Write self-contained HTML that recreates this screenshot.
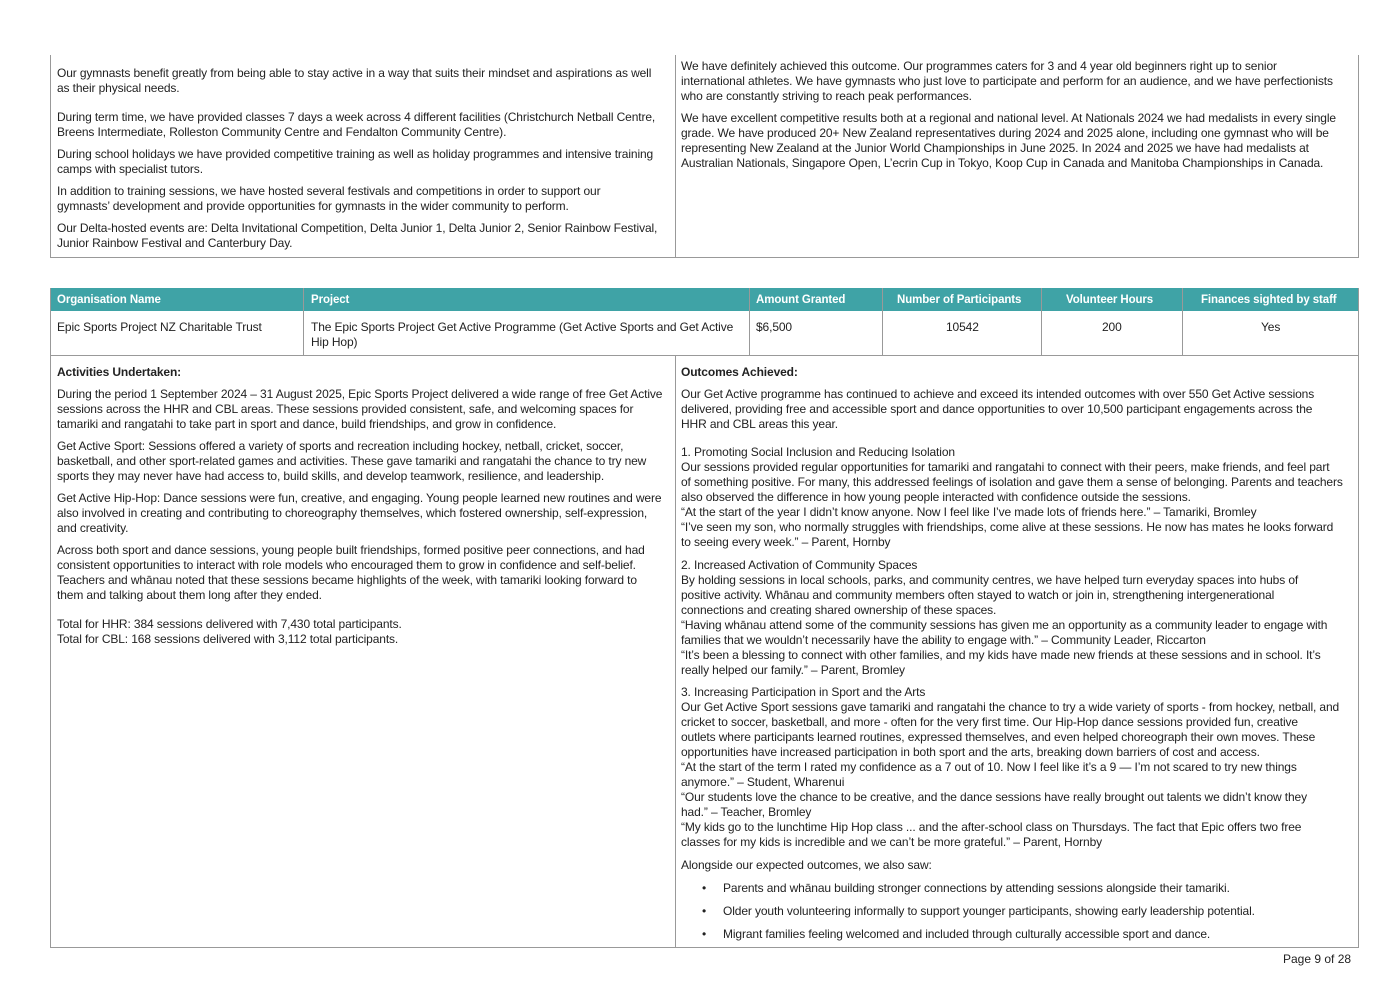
<!DOCTYPE html>
<html><head><meta charset="utf-8"><style>
body{margin:0;width:1398px;height:989px;background:#fff;position:relative;overflow:hidden;font-family:"Liberation Sans",sans-serif;color:#222;}
.t{position:absolute;font-size:12px;line-height:15px;white-space:nowrap;letter-spacing:-0.12px;margin-top:2px}
.b{font-weight:bold}
.box{position:absolute;border:1px solid #999;box-sizing:border-box}
.v{position:absolute;width:1px;background:#999}
.h{position:absolute;height:1px;background:#999}
.hd{position:absolute;top:288px;height:23px;background:#3fa3a6;}
.ht{position:absolute;top:294px;color:#fff;font-weight:bold;font-size:11.5px;white-space:nowrap;letter-spacing:-0.1px}
</style></head><body>
<div class="box" style="left:50px;top:55px;width:1309px;height:203px;border-top:none"></div>
<div class="v" style="left:675px;top:55px;height:203px"></div>

<div class="t" style="left:57px;top:64px">Our gymnasts benefit greatly from being able to stay active in a way that suits their mindset and aspirations as well<br>as their physical needs.</div>
<div class="t" style="left:57px;top:108px">During term time, we have provided classes 7 days a week across 4 different facilities (Christchurch Netball Centre,<br>Breens Intermediate, Rolleston Community Centre and Fendalton Community Centre).</div>
<div class="t" style="left:57px;top:145px">During school holidays we have provided competitive training as well as holiday programmes and intensive training<br>camps with specialist tutors.</div>
<div class="t" style="left:57px;top:182px">In addition to training sessions, we have hosted several festivals and competitions in order to support our<br>gymnasts’ development and provide opportunities for gymnasts in the wider community to perform.</div>
<div class="t" style="left:57px;top:219px">Our Delta-hosted events are: Delta Invitational Competition, Delta Junior 1, Delta Junior 2, Senior Rainbow Festival,<br>Junior Rainbow Festival and Canterbury Day.</div>

<div class="t" style="left:681px;top:57px">We have definitely achieved this outcome. Our programmes caters for 3 and 4 year old beginners right up to senior<br>international athletes. We have gymnasts who just love to participate and perform for an audience, and we have perfectionists<br>who are constantly striving to reach peak performances.</div>
<div class="t" style="left:681px;top:109px">We have excellent competitive results both at a regional and national level. At Nationals 2024 we had medalists in every single<br>grade. We have produced 20+ New Zealand representatives during 2024 and 2025 alone, including one gymnast who will be<br>representing New Zealand at the Junior World Championships in June 2025. In 2024 and 2025 we have had medalists at<br>Australian Nationals, Singapore Open, L’ecrin Cup in Tokyo, Koop Cup in Canada and Manitoba Championships in Canada.</div>

<div class="box" style="left:50px;top:288px;width:1309px;height:660px"></div>
<div class="hd" style="left:51px;width:1307px"></div>
<div class="v" style="left:303px;top:288px;height:67px"></div>
<div class="v" style="left:749px;top:288px;height:67px"></div>
<div class="v" style="left:882px;top:288px;height:67px"></div>
<div class="v" style="left:1041px;top:288px;height:67px"></div>
<div class="v" style="left:1182px;top:288px;height:67px"></div>
<div class="h" style="left:50px;top:355px;width:1309px"></div>
<div class="v" style="left:675px;top:355px;height:593px"></div>
<div class="ht" style="left:57px">Organisation Name</div>
<div class="ht" style="left:311px">Project</div>
<div class="ht" style="left:756px">Amount Granted</div>
<div class="ht" style="left:897px">Number of Participants</div>
<div class="ht" style="left:1066px">Volunteer Hours</div>
<div class="ht" style="left:1201px">Finances sighted by staff</div>

<div class="t" style="left:57px;top:318px">Epic Sports Project NZ Charitable Trust</div>
<div class="t" style="left:311px;top:318px">The Epic Sports Project Get Active Programme (Get Active Sports and Get Active<br>Hip Hop)</div>
<div class="t" style="left:756px;top:318px">$6,500</div>
<div class="t" style="left:946px;top:318px">10542</div>
<div class="t" style="left:1102px;top:318px">200</div>
<div class="t" style="left:1261px;top:318px">Yes</div>

<div class="t b" style="left:57px;top:363px">Activities Undertaken:</div>
<div class="t" style="left:57px;top:385px">During the period 1 September 2024 – 31 August 2025, Epic Sports Project delivered a wide range of free Get Active<br>sessions across the HHR and CBL areas. These sessions provided consistent, safe, and welcoming spaces for<br>tamariki and rangatahi to take part in sport and dance, build friendships, and grow in confidence.</div>
<div class="t" style="left:57px;top:437px">Get Active Sport: Sessions offered a variety of sports and recreation including hockey, netball, cricket, soccer,<br>basketball, and other sport-related games and activities. These gave tamariki and rangatahi the chance to try new<br>sports they may never have had access to, build skills, and develop teamwork, resilience, and leadership.</div>
<div class="t" style="left:57px;top:489px">Get Active Hip-Hop: Dance sessions were fun, creative, and engaging. Young people learned new routines and were<br>also involved in creating and contributing to choreography themselves, which fostered ownership, self-expression,<br>and creativity.</div>
<div class="t" style="left:57px;top:541px">Across both sport and dance sessions, young people built friendships, formed positive peer connections, and had<br>consistent opportunities to interact with role models who encouraged them to grow in confidence and self-belief.<br>Teachers and whānau noted that these sessions became highlights of the week, with tamariki looking forward to<br>them and talking about them long after they ended.</div>
<div class="t" style="left:57px;top:615px">Total for HHR: 384 sessions delivered with 7,430 total participants.<br>Total for CBL: 168 sessions delivered with 3,112 total participants.</div>

<div class="t b" style="left:681px;top:363px">Outcomes Achieved:</div>
<div class="t" style="left:681px;top:385px">Our Get Active programme has continued to achieve and exceed its intended outcomes with over 550 Get Active sessions<br>delivered, providing free and accessible sport and dance opportunities to over 10,500 participant engagements across the<br>HHR and CBL areas this year.</div>
<div class="t" style="left:681px;top:443px">1. Promoting Social Inclusion and Reducing Isolation<br>Our sessions provided regular opportunities for tamariki and rangatahi to connect with their peers, make friends, and feel part<br>of something positive. For many, this addressed feelings of isolation and gave them a sense of belonging. Parents and teachers<br>also observed the difference in how young people interacted with confidence outside the sessions.<br>“At the start of the year I didn’t know anyone. Now I feel like I’ve made lots of friends here.” – Tamariki, Bromley<br>“I’ve seen my son, who normally struggles with friendships, come alive at these sessions. He now has mates he looks forward<br>to seeing every week.” – Parent, Hornby</div>
<div class="t" style="left:681px;top:556px">2. Increased Activation of Community Spaces<br>By holding sessions in local schools, parks, and community centres, we have helped turn everyday spaces into hubs of<br>positive activity. Whānau and community members often stayed to watch or join in, strengthening intergenerational<br>connections and creating shared ownership of these spaces.<br>“Having whānau attend some of the community sessions has given me an opportunity as a community leader to engage with<br>families that we wouldn’t necessarily have the ability to engage with.” – Community Leader, Riccarton<br>“It’s been a blessing to connect with other families, and my kids have made new friends at these sessions and in school. It’s<br>really helped our family.” – Parent, Bromley</div>
<div class="t" style="left:681px;top:683px">3. Increasing Participation in Sport and the Arts<br>Our Get Active Sport sessions gave tamariki and rangatahi the chance to try a wide variety of sports - from hockey, netball, and<br>cricket to soccer, basketball, and more - often for the very first time. Our Hip-Hop dance sessions provided fun, creative<br>outlets where participants learned routines, expressed themselves, and even helped choreograph their own moves. These<br>opportunities have increased participation in both sport and the arts, breaking down barriers of cost and access.<br>“At the start of the term I rated my confidence as a 7 out of 10. Now I feel like it’s a 9 — I’m not scared to try new things<br>anymore.” – Student, Wharenui<br>“Our students love the chance to be creative, and the dance sessions have really brought out talents we didn’t know they<br>had.” – Teacher, Bromley<br>“My kids go to the lunchtime Hip Hop class ... and the after-school class on Thursdays. The fact that Epic offers two free<br>classes for my kids is incredible and we can’t be more grateful.” – Parent, Hornby</div>
<div class="t" style="left:681px;top:856px">Alongside our expected outcomes, we also saw:</div>
<div class="t" style="left:702px;top:879px">•</div><div class="t" style="left:723px;top:879px">Parents and whānau building stronger connections by attending sessions alongside their tamariki.</div>
<div class="t" style="left:702px;top:902px">•</div><div class="t" style="left:723px;top:902px">Older youth volunteering informally to support younger participants, showing early leadership potential.</div>
<div class="t" style="left:702px;top:925px">•</div><div class="t" style="left:723px;top:925px">Migrant families feeling welcomed and included through culturally accessible sport and dance.</div>

<div class="t" style="left:1283px;top:950px;letter-spacing:0">Page 9 of 28</div>
</body></html>
